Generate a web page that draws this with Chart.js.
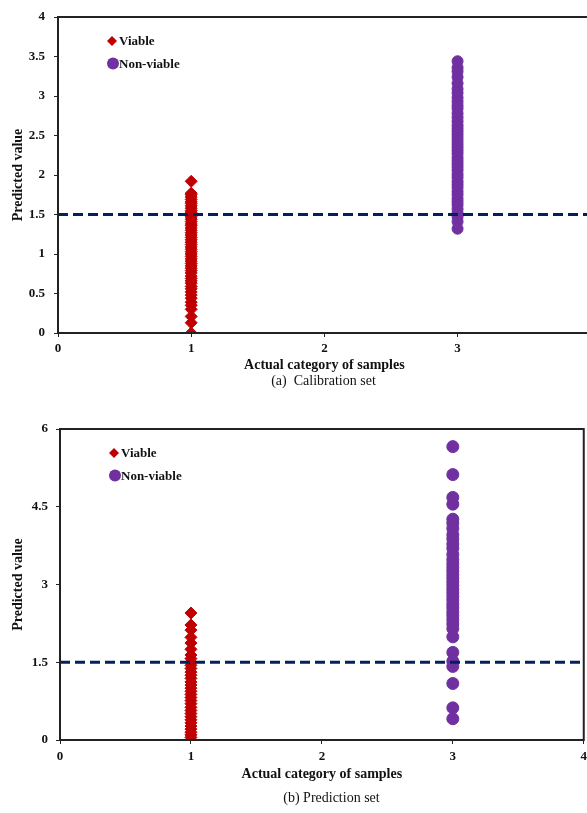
<!DOCTYPE html>
<html>
<head>
<meta charset="utf-8">
<script src="https://cdn.jsdelivr.net/npm/chart.js@4.4.1/dist/chart.umd.min.js"></script>
<style>
  body { margin: 0; background: #fff; overflow: hidden; width: 587px; height: 813px; position: relative; }
  .box { position: absolute; left: 0; width: 587px; overflow: hidden; }
  canvas { display: block; }
  .cap { position: absolute; width: 587px; text-align: center; font-family: "Liberation Serif", serif; font-size: 14px; color: #111; }
</style>
</head>
<body>
<div class="box" style="top:0;height:374px"><canvas id="calChart" width="598" height="374"></canvas></div>
<div class="cap" style="top:373px;left:30px">(a)&nbsp; Calibration set</div>
<div class="box" style="top:400px;height:385px"><canvas id="predChart" width="592" height="385"></canvas></div>
<div class="cap" style="top:790px;left:38px">(b) Prediction set</div>
<script>
const seriesNames = ['Viable', 'Non-viable']
const categories = [1, 3]
const xTicks = [0, 1, 2, 3, 4]

// calibration set
const calViable = [1.92, 1.77, 1.75, 1.72, 1.69, 1.66, 1.64, 1.61, 1.58, 1.55, 1.53, 1.50, 1.47,
  1.44, 1.41, 1.38, 1.36, 1.33, 1.30, 1.27, 1.24, 1.21, 1.18, 1.15, 1.12, 1.09, 1.06, 1.03, 1.00,
  0.97, 0.94, 0.91, 0.88, 0.85, 0.82, 0.79, 0.76, 0.72, 0.69, 0.66, 0.63, 0.59, 0.56, 0.52, 0.48,
  0.44, 0.39, 0.35, 0.30, 0.21, 0.13, 0.00]
const calNonViable = [3.44, 3.36, 3.31, 3.24, 3.16, 3.09, 3.04, 2.98, 2.93, 2.88, 2.84, 2.78,
  2.73, 2.68, 2.63, 2.59, 2.55, 2.51, 2.47, 2.43, 2.39, 2.35, 2.31, 2.27, 2.22, 2.18, 2.14, 2.10,
  2.06, 2.01, 1.97, 1.92, 1.88, 1.84, 1.79, 1.75, 1.70, 1.66, 1.62, 1.57, 1.52, 1.47, 1.41, 1.32]
const calThreshold = 1.5
const calYTicks = [0, 0.5, 1, 1.5, 2, 2.5, 3, 3.5, 4]

// prediction set
const predViable = [2.45, 2.22, 2.12, 1.98, 1.87, 1.75, 1.64, 1.57, 1.50, 1.44, 1.38, 1.31, 1.25,
  1.19, 1.12, 1.06, 1.00, 0.94, 0.88, 0.82, 0.76, 0.70, 0.63, 0.57, 0.51, 0.45, 0.39, 0.33, 0.27,
  0.21, 0.15, 0.10, 0.05]
const predNonViable = [5.66, 5.12, 4.68, 4.55, 4.26, 4.18, 4.08, 3.96, 3.88, 3.78, 3.70, 3.58,
  3.48, 3.40, 3.33, 3.26, 3.19, 3.12, 3.05, 2.98, 2.91, 2.84, 2.77, 2.70, 2.62, 2.55, 2.47, 2.40,
  2.32, 2.24, 2.15, 1.99, 1.69, 1.52, 1.42, 1.09, 0.62, 0.41]
const predThreshold = 1.5
const predYTicks = [0, 1.5, 3, 4.5, 6]

const RED = 'rgb(192, 0, 0)'
const PURPLE = 'rgb(112, 48, 160)'
const NAVY = 'rgb(0, 32, 96)'
const SERIF = '"Liberation Serif", "Times New Roman", serif'

// box round the plot area + legend drawn inside it
const framePlugin = {
  id: 'frame',
  afterDatasetsDraw(chart, args, opts) {
    const { ctx, chartArea: a } = chart
    ctx.save()
    ctx.strokeStyle = '#222'
    ctx.lineWidth = 2
    ctx.strokeRect(a.left, a.top, a.right - a.left, a.bottom - a.top)

    ctx.font = 'bold 13px ' + SERIF
    ctx.textBaseline = 'middle'
    chart.data.datasets.forEach((ds, i) => {
      if (ds.type === 'line') return
      const x = a.left + opts.x
      const y = a.top + opts.y + i * opts.gap
      ctx.fillStyle = ds.backgroundColor
      ctx.beginPath()
      if (ds.pointStyle === 'rectRot') {
        ctx.moveTo(x, y - 5); ctx.lineTo(x + 5, y); ctx.lineTo(x, y + 5); ctx.lineTo(x - 5, y)
      } else {
        ctx.arc(x + 1, y, 6, 0, Math.PI * 2)
      }
      ctx.closePath()
      ctx.fill()
      ctx.fillStyle = '#111'
      ctx.fillText(ds.label, x + 7, y + 1)
    })
    ctx.restore()
  }
}

function makeChart(id, viable, nonViable, threshold, yTicks, lay) {
  const yMax = yTicks[yTicks.length - 1]
  return new Chart(document.getElementById(id), {
    type: 'scatter',
    data: {
      datasets: [
        {
          label: seriesNames[0],
          data: viable.map(v => ({ x: categories[0], y: v })),
          pointStyle: 'rectRot',
          backgroundColor: RED,
          borderColor: RED,
          borderWidth: 1,
          pointRadius: lay.r
        },
        {
          label: seriesNames[1],
          data: nonViable.map(v => ({ x: categories[1], y: v })),
          pointStyle: 'circle',
          backgroundColor: PURPLE,
          borderColor: PURPLE,
          borderWidth: 1,
          pointRadius: lay.rc
        },
        {
          type: 'line',
          label: 'threshold',
          data: [{ x: xTicks[0], y: threshold }, { x: xTicks[xTicks.length - 1], y: threshold }],
          borderColor: NAVY,
          borderWidth: 3,
          borderDash: [10, 5],
          pointRadius: 0,
          order: -1
        }
      ]
    },
    options: {
      responsive: false,
      animation: false,
      layout: { padding: { top: lay.top, left: 0, right: lay.right, bottom: 0 } },
      plugins: {
        legend: { display: false },
        tooltip: { enabled: false },
        frame: { x: 54, y: 24, gap: 22.5 }
      },
      scales: {
        x: {
          type: 'linear',
          min: 0, max: 4,
          afterBuildTicks: s => { s.ticks = xTicks.map(v => ({ value: v })) },
          afterFit: s => { s.height = lay.xh },
          grid: { drawOnChartArea: false, tickLength: 4, color: '#222' },
          border: { color: '#222', width: 2 },
          ticks: { padding: lay.xpad, color: '#111', callback: v => String(v),
            font: { family: SERIF, size: 13, weight: 'bold' } },
          title: {
            display: true,
            text: 'Actual category of samples',
            color: '#111',
            padding: { top: 0, bottom: lay.xtitle },
            font: { family: SERIF, size: 14, weight: 'bold' }
          }
        },
        y: {
          min: 0, max: yMax,
          afterBuildTicks: s => { s.ticks = yTicks.map(v => ({ value: v })) },
          afterFit: s => { s.width = lay.yw },
          grid: { drawOnChartArea: false, tickLength: 4, color: '#222' },
          border: { color: '#222', width: 2 },
          ticks: { padding: lay.ypad, color: '#111', callback: v => String(v),
            font: { family: SERIF, size: 13, weight: 'bold' } },
          title: {
            display: true,
            text: 'Predicted value',
            color: '#111',
            padding: { top: 10, bottom: 0 },
            font: { family: SERIF, size: 14, weight: 'bold' }
          }
        }
      }
    },
    plugins: [framePlugin]
  })
}

makeChart('calChart', calViable, calNonViable, calThreshold, calYTicks,
  { top: 17, right: 2, xh: 41, yw: 58, xpad: 4, ypad: 9, xtitle: 0, r: 6, rc: 5.5 })
makeChart('predChart', predViable, predNonViable, predThreshold, predYTicks,
  { top: 29, right: 3, xh: 45, yw: 60, xpad: 5, ypad: 8, xtitle: 2, r: 6, rc: 6 })
</script>
</body>
</html>
